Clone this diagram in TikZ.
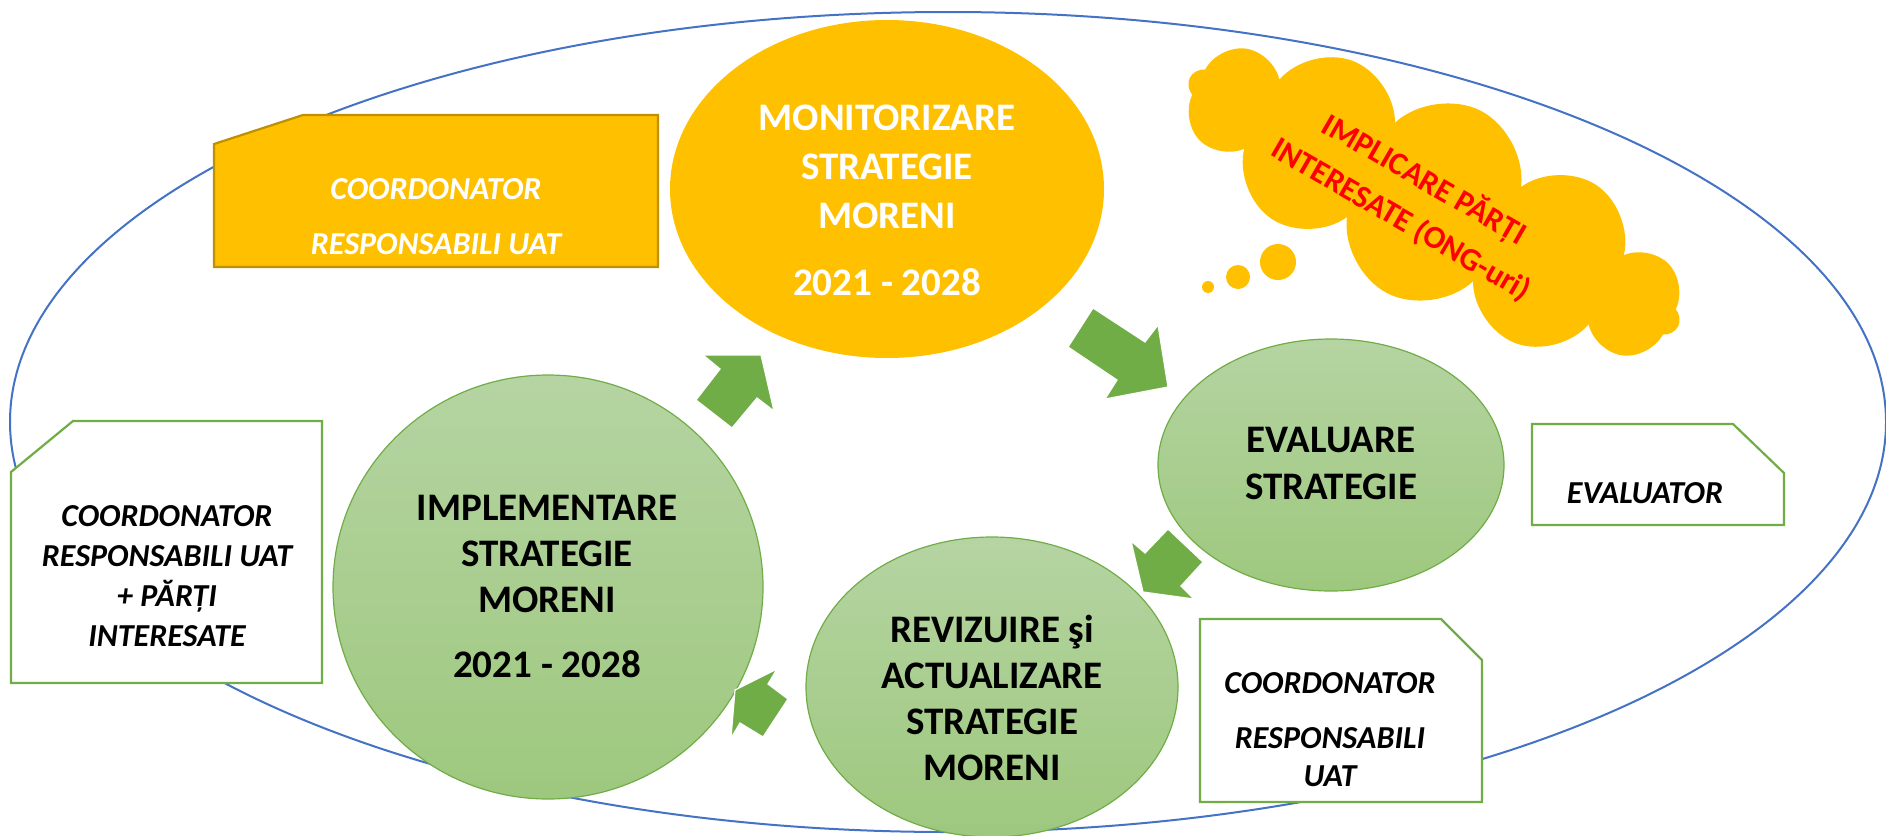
\documentclass[tikz,border=0pt]{standalone}
\usepackage{fontspec}
\setmainfont{Carlito}
\usetikzlibrary{shapes.geometric,shapes.symbols}
\definecolor{ylw}{HTML}{FFC000}
\definecolor{ylwdark}{HTML}{BF9000}
\definecolor{grn}{HTML}{70AD47}
\definecolor{blu}{HTML}{4472C4}
\definecolor{gtop}{RGB}{181,212,162}
\definecolor{gbot}{RGB}{158,200,126}
\definecolor{redtxt}{HTML}{FF0000}
\begin{document}
\begin{tikzpicture}[x=1pt,y=-1pt,
  circtext/.style={align=center,inner sep=0pt},
  boxtext/.style={align=center,inner sep=0pt,font=\bfseries\itshape\fontsize{32}{40}\selectfont},
  greenshape/.style={ellipse,draw=grn,line width=1.2pt,top color=gtop,bottom color=gbot,inner sep=0pt},
  snipbox/.style={draw=grn,line width=2.2pt,fill=white,line join=miter},
  blockarrow/.style={fill=grn,draw=white,line width=1.2pt,line join=miter},
]
\useasboundingbox (0,0) rectangle (1886,835);
% outer ellipse
\draw[blu,line width=2pt] (948,422) ellipse [x radius=938, y radius=410];

% snipped boxes
\draw[fill=ylw,draw=ylwdark,line width=2.2pt,line join=miter]
  (303,115) -- (658,115) -- (658,267) -- (214,267) -- (214,144) -- cycle;
\draw[snipbox] (73,421) -- (322,421) -- (322,683) -- (11,683) -- (11,472) -- cycle;
\draw[snipbox] (1532,424) -- (1733,424) -- (1784,473) -- (1784,525) -- (1532,525) -- cycle;
\draw[snipbox] (1200,619) -- (1441,619) -- (1482,660) -- (1482,802) -- (1200,802) -- cycle;

% main shapes
\node[ellipse,fill=ylw,inner sep=0pt,minimum width=434pt,minimum height=338pt] (mon) at (887,189) {};
\node[cloud,cloud puffs=12,cloud puff arc=140,aspect=2.7,fill=ylw,inner sep=0pt,
      minimum width=548pt,minimum height=205pt,rotate=-27] (cloud) at (1434,202) {};
\node[circle,fill=ylw,inner sep=0pt,minimum size=36pt] (b1) at (1278,262) {};
\node[circle,fill=ylw,inner sep=0pt,minimum size=24pt] (b2) at (1238,277) {};
\node[circle,fill=ylw,inner sep=0pt,minimum size=12pt] (b3) at (1208,287) {};

\node[greenshape,minimum width=430pt,minimum height=424pt] (impl) at (548,587) {};
\node[greenshape,minimum width=346pt,minimum height=252pt] (eval) at (1331,465) {};
\node[greenshape,minimum width=372pt,minimum height=300pt] (rev) at (992,687) {};

% block arrows
\filldraw[blockarrow] (696,400) -- (732,428) -- (757,398) -- (774,411) -- (761,355) -- (703,355) -- (720,369) -- cycle;
\filldraw[blockarrow] (1093,308) -- (1145,342) -- (1158,325) -- (1168,387) -- (1105,399) -- (1117,380) -- (1068,347) -- cycle;
\filldraw[blockarrow] (1168,529) -- (1203,562) -- (1181,586) -- (1194,599) -- (1143,592) -- (1131,541) -- (1145,553) -- cycle;
\filldraw[blockarrow] (735,690) -- (777,669) -- (768,684) -- (788,699) -- (763,737) -- (740,723) -- (731,738) -- cycle;

% texts
\node[circtext,text=white,font=\bfseries\fontsize{39}{49}\selectfont] (montxt) at (887,200)
  {MONITORIZARE\\STRATEGIE\\MORENI\\[18pt]2021 - 2028};
\node[circtext,text=black,font=\bfseries\fontsize{39}{46}\selectfont] (impltxt) at (547,586)
  {IMPLEMENTARE\\STRATEGIE\\MORENI\\[19pt]2021 - 2028};
\node[circtext,text=black,font=\bfseries\fontsize{39}{47}\selectfont] (evaltxt) at (1331,463)
  {EVALUARE\\STRATEGIE};
\node[circtext,text=black,font=\bfseries\fontsize{39}{46}\selectfont] (revtxt) at (992,698)
  {REVIZUIRE şi\\ACTUALIZARE\\STRATEGIE\\MORENI};
\node[circtext,text=redtxt,rotate=-30,font=\bfseries\fontsize{32}{46}\selectfont] (cloudtxt) at (1413,199)
  {IMPLICARE PĂRȚI\\INTERESATE (ONG-uri)};

\node[align=center,inner sep=0pt,text=white,font=\bfseries\itshape\fontsize{32}{55}\selectfont] (ytxt) at (436,217)
  {COORDONATOR\\RESPONSABILI UAT};
\node[boxtext] (ltxt) at (167,576) {COORDONATOR\\RESPONSABILI UAT\\+ PĂRȚI\\INTERESATE};
\node[boxtext] (evtxt) at (1645,493) {EVALUATOR};
\node[boxtext,font=\bfseries\itshape\fontsize{32}{38}\selectfont] (brtxt) at (1330,730)
  {COORDONATOR\\[17pt]RESPONSABILI\\UAT};
\end{tikzpicture}
\end{document}
